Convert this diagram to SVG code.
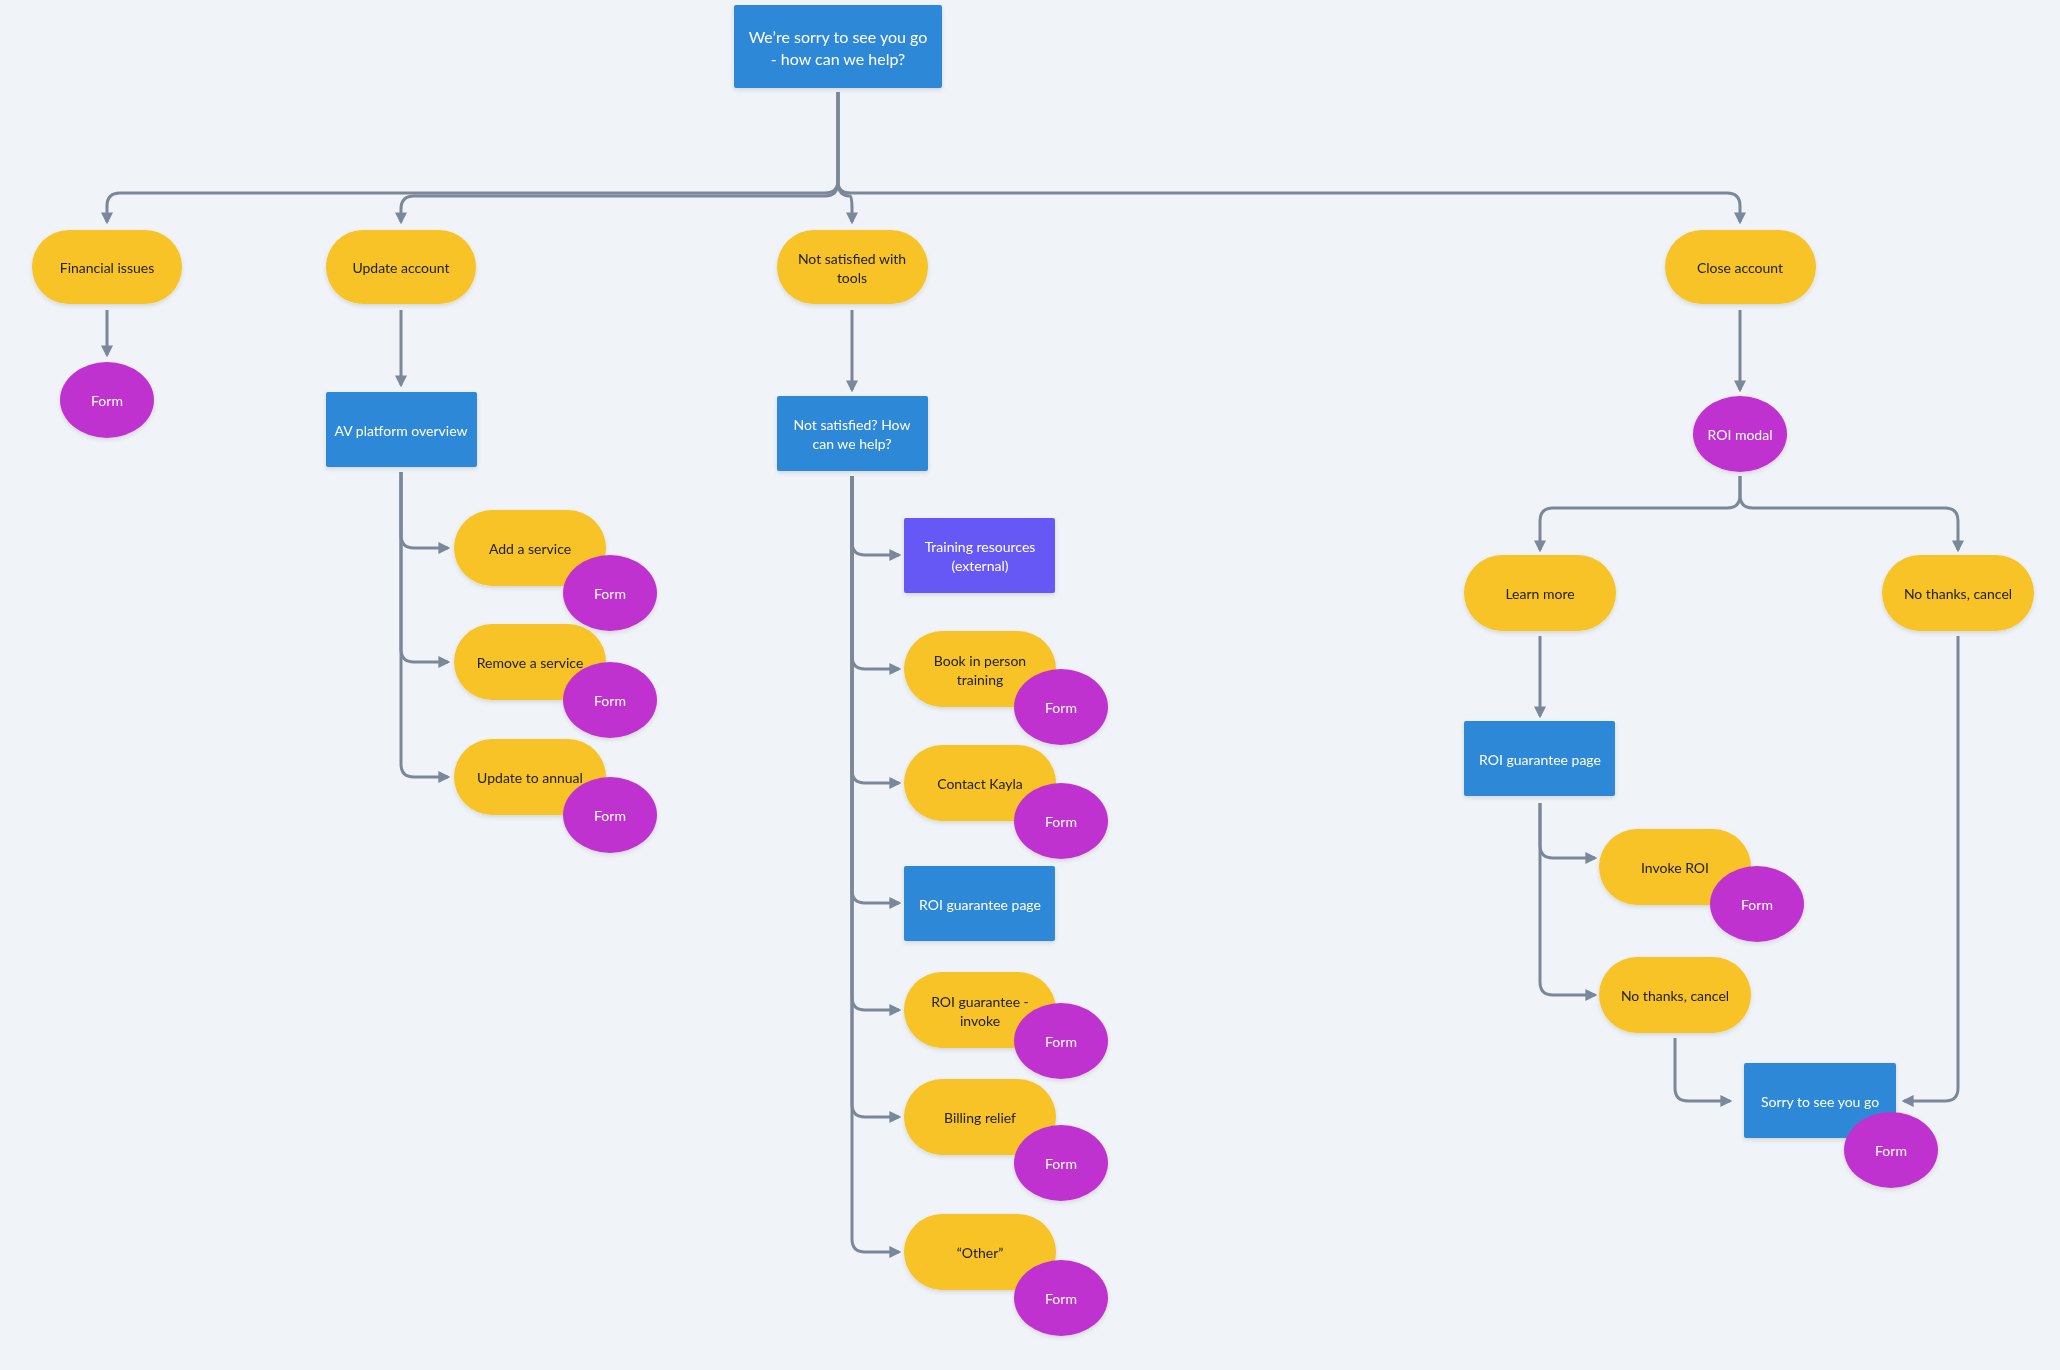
<svg xmlns="http://www.w3.org/2000/svg" width="2060" height="1370" viewBox="0 0 2060 1370">
<style>
.b{fill:#2e88d8}.y{fill:#f7c325}.p{fill:#c033d0}.v{fill:#6658f5}
text{font-family:Lato,"Noto Sans","Liberation Sans",sans-serif;font-size:14px;text-anchor:middle;dominant-baseline:central}
.w{fill:#ffffff}.k{fill:#222222}
.c path{fill:none;stroke:#7a8899;stroke-width:3;marker-end:url(#a)}
</style>
<defs>
<marker id="a" viewBox="0 0 10 10" refX="8" refY="5" markerWidth="4" markerHeight="4" orient="auto"><path d="M0,0L10,5L0,10z" fill="#7a8899"/></marker>
<filter id="s" x="-20%" y="-20%" width="140%" height="150%"><feDropShadow dx="0" dy="2" stdDeviation="2" flood-color="#000" flood-opacity="0.12"/></filter>
</defs>
<rect width="2060" height="1370" fill="#f0f4f8"/>
<g class="c">
<path d="M838,92V180Q838,193 825,193H120Q107,193 107,206V222"/>
<path d="M838,92V182Q838,196 825,196H414Q401,196 401,209V222"/>
<path d="M838,92V182Q838,196 850,196Q852,196 852,209V222"/>
<path d="M838,92V182Q838,193 851,193H1727Q1740,193 1740,206V222"/>
<path d="M107,310V355"/>
<path d="M401,310V385"/>
<path d="M852,310V390"/>
<path d="M1740,310V390"/>
<path d="M401,472V535Q401,548 414,548H448"/>
<path d="M401,472V649Q401,662 414,662H448"/>
<path d="M401,472V764Q401,777 414,777H448"/>
<path d="M852,476V542Q852,555 865,555H899"/>
<path d="M852,476V656Q852,669 865,669H899"/>
<path d="M852,476V770Q852,783 865,783H899"/>
<path d="M852,476V890Q852,903 865,903H899"/>
<path d="M852,476V997Q852,1010 865,1010H899"/>
<path d="M852,476V1104Q852,1117 865,1117H899"/>
<path d="M852,476V1239Q852,1252 865,1252H899"/>
<path d="M1740,476V495Q1740,508 1727,508H1553Q1540,508 1540,521V550"/>
<path d="M1740,476V495Q1740,508 1753,508H1945Q1958,508 1958,521V550"/>
<path d="M1540,636V716"/>
<path d="M1540,803V845Q1540,858 1553,858H1595"/>
<path d="M1540,803V982Q1540,995 1553,995H1595"/>
<path d="M1675,1038V1088Q1675,1101 1688,1101H1730"/>
<path d="M1958,636V1088Q1958,1101 1945,1101H1904"/>
</g>
<g id="top" filter="url(#s)"><rect class="b" x="734" y="5" width="208" height="83" rx="2"/><text class="w" x="838" y="36" style="font-size:16px">We’re sorry to see you go</text><text class="w" x="838" y="58" style="font-size:16px">- how can we help?</text></g>
<g id="fin" filter="url(#s)"><rect class="y" x="32" y="230" width="150" height="74" rx="37"/><text class="k" x="107" y="267">Financial issues</text></g>
<g id="finform" filter="url(#s)"><ellipse class="p" cx="107" cy="400" rx="47" ry="38"/><text class="w" x="107" y="400">Form</text></g>
<g id="upd" filter="url(#s)"><rect class="y" x="326" y="230" width="150" height="74" rx="37"/><text class="k" x="401" y="267">Update account</text></g>
<g id="av" filter="url(#s)"><rect class="b" x="326" y="392" width="151" height="75" rx="2"/><text class="w" x="401" y="430">AV platform overview</text></g>
<g id="add" filter="url(#s)"><rect class="y" x="454" y="510" width="152" height="76" rx="38"/><text class="k" x="530" y="548">Add a service</text><ellipse class="p" cx="610" cy="593" rx="47" ry="38"/><text class="w" x="610" y="593">Form</text></g>
<g id="rem" filter="url(#s)"><rect class="y" x="454" y="624" width="152" height="76" rx="38"/><text class="k" x="530" y="662">Remove a service</text><ellipse class="p" cx="610" cy="700" rx="47" ry="38"/><text class="w" x="610" y="700">Form</text></g>
<g id="ann" filter="url(#s)"><rect class="y" x="454" y="739" width="152" height="76" rx="38"/><text class="k" x="530" y="777">Update to annual</text><ellipse class="p" cx="610" cy="815" rx="47" ry="38"/><text class="w" x="610" y="815">Form</text></g>
<g id="nst" filter="url(#s)"><rect class="y" x="777" y="230" width="151" height="74" rx="37"/><text class="k" x="852" y="258">Not satisfied with</text><text class="k" x="852" y="277">tools</text></g>
<g id="nsh" filter="url(#s)"><rect class="b" x="777" y="396" width="151" height="75" rx="2"/><text class="w" x="852" y="424">Not satisfied? How</text><text class="w" x="852" y="443">can we help?</text></g>
<g id="train" filter="url(#s)"><rect class="v" x="904" y="518" width="151" height="75" rx="2"/><text class="w" x="980" y="546">Training resources</text><text class="w" x="980" y="565">(external)</text></g>
<g id="book" filter="url(#s)"><rect class="y" x="904" y="631" width="152" height="76" rx="38"/><text class="k" x="980" y="660">Book in person</text><text class="k" x="980" y="679">training</text><ellipse class="p" cx="1061" cy="707" rx="47" ry="38"/><text class="w" x="1061" y="707">Form</text></g>
<g id="kayla" filter="url(#s)"><rect class="y" x="904" y="745" width="152" height="76" rx="38"/><text class="k" x="980" y="783">Contact Kayla</text><ellipse class="p" cx="1061" cy="821" rx="47" ry="38"/><text class="w" x="1061" y="821">Form</text></g>
<g id="roip" filter="url(#s)"><rect class="b" x="904" y="866" width="151" height="75" rx="2"/><text class="w" x="980" y="904">ROI guarantee page</text></g>
<g id="roii" filter="url(#s)"><rect class="y" x="904" y="972" width="152" height="76" rx="38"/><text class="k" x="980" y="1001">ROI guarantee -</text><text class="k" x="980" y="1020">invoke</text><ellipse class="p" cx="1061" cy="1041" rx="47" ry="38"/><text class="w" x="1061" y="1041">Form</text></g>
<g id="bill" filter="url(#s)"><rect class="y" x="904" y="1079" width="152" height="76" rx="38"/><text class="k" x="980" y="1117">Billing relief</text><ellipse class="p" cx="1061" cy="1163" rx="47" ry="38"/><text class="w" x="1061" y="1163">Form</text></g>
<g id="other" filter="url(#s)"><rect class="y" x="904" y="1214" width="152" height="76" rx="38"/><text class="k" x="980" y="1252">“Other”</text><ellipse class="p" cx="1061" cy="1298" rx="47" ry="38"/><text class="w" x="1061" y="1298">Form</text></g>
<g id="close" filter="url(#s)"><rect class="y" x="1665" y="230" width="151" height="74" rx="37"/><text class="k" x="1740" y="267">Close account</text></g>
<g id="roim" filter="url(#s)"><ellipse class="p" cx="1740" cy="434" rx="47" ry="38"/><text class="w" x="1740" y="434">ROI modal</text></g>
<g id="learn" filter="url(#s)"><rect class="y" x="1464" y="555" width="152" height="76" rx="38"/><text class="k" x="1540" y="593">Learn more</text></g>
<g id="nt1" filter="url(#s)"><rect class="y" x="1882" y="555" width="152" height="76" rx="38"/><text class="k" x="1958" y="593">No thanks, cancel</text></g>
<g id="roip2" filter="url(#s)"><rect class="b" x="1464" y="721" width="151" height="75" rx="2"/><text class="w" x="1540" y="759">ROI guarantee page</text></g>
<g id="inv" filter="url(#s)"><rect class="y" x="1599" y="829" width="152" height="76" rx="38"/><text class="k" x="1675" y="867">Invoke ROI</text><ellipse class="p" cx="1757" cy="904" rx="47" ry="38"/><text class="w" x="1757" y="904">Form</text></g>
<g id="nt2" filter="url(#s)"><rect class="y" x="1599" y="957" width="152" height="76" rx="38"/><text class="k" x="1675" y="995">No thanks, cancel</text></g>
<g id="sorry" filter="url(#s)"><rect class="b" x="1744" y="1063" width="152" height="75" rx="2"/><text class="w" x="1820" y="1101">Sorry to see you go</text><ellipse class="p" cx="1891" cy="1150" rx="47" ry="38"/><text class="w" x="1891" y="1150">Form</text></g>
</svg>
